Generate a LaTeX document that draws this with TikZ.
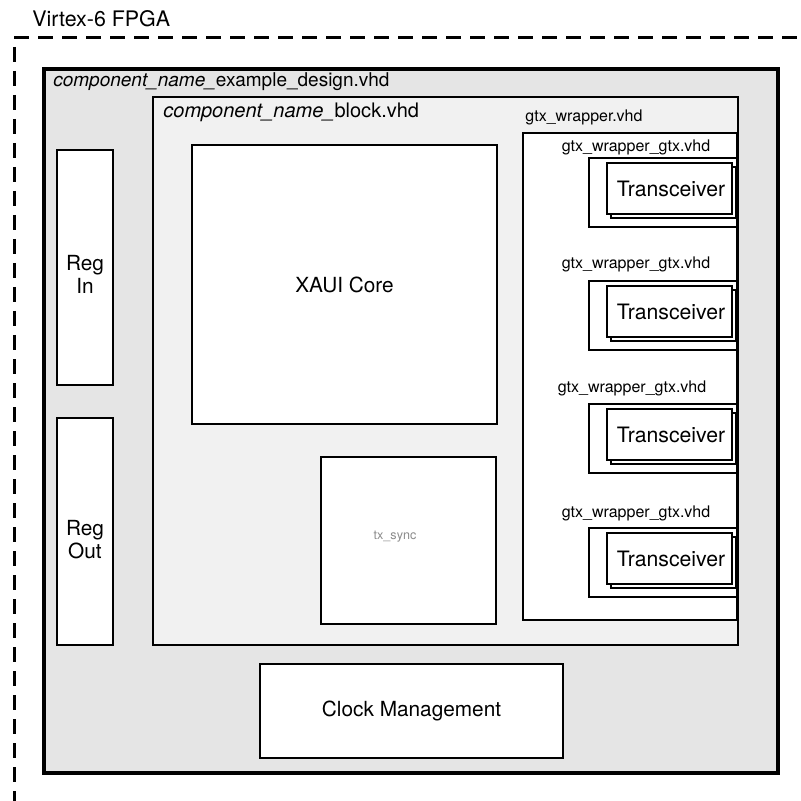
\documentclass[tikz,border=0pt]{standalone}
\usepackage{fontspec}
\setmainfont{TeX Gyre Heros}
\usepackage{tikz}
\usetikzlibrary{positioning}
\definecolor{shellgray}{RGB}{229,229,229}
\definecolor{blockgray}{RGB}{241,241,241}
\definecolor{syncgray}{RGB}{140,140,140}

\tikzset{
  shell/.style={draw, line width=1.7pt, fill=shellgray},
  blockbox/.style={draw, line width=1.4pt, fill=blockgray},
  unit/.style={draw, line width=1.3pt, fill=white},
  gtxbox/.style={draw, line width=1.2pt, fill=white},
  xcvr/.style={draw, line width=0.6pt, fill=white},
  title/.style={anchor=base west, inner sep=0pt, font=\fontsize{10}{12}\selectfont},
  label/.style={align=center, font=\fontsize{10.4}{11.5}\selectfont},
  gtxlabel/.style={anchor=base, inner sep=0pt, font=\fontsize{8}{10}\selectfont},
}

\begin{document}
\begin{tikzpicture}[x=0.5pt, y=-0.5pt]
  \useasboundingbox (0,0) rectangle (800,801);

  % FPGA boundary
  \draw[line width=1.5pt, dash pattern=on 7.5pt off 4.5pt] (14,38) -- (800,38);
  \draw[line width=1.5pt, dash pattern=on 7.5pt off 4.5pt] (14,47) -- (14,801);
  \node[anchor=base west, inner sep=0pt, font=\fontsize{10.7}{12}\selectfont] (fpga) at (32,27) {Virtex-6 FPGA};

  % example design
  \draw[shell] (44,69) rectangle (778,773);
  \node[title, font=\fontsize{9.5}{12}\selectfont] (exdesign) at (53,87) {\textit{component\_name\_}example\_design.vhd};

  \draw[unit] (57,150) rectangle (113,385);
  \node[label] (regin) at (85,274) {Reg\\In};
  \draw[unit] (57,418) rectangle (113,645);
  \node[label] (regout) at (85,540) {Reg\\Out};

  \draw[unit] (260,664) rectangle (563,758);
  \node[label] (clk) at (411.5,711) {Clock Management};

  % block level
  \draw[blockbox] (153,97) rectangle (738,645);
  \node[title] (block) at (163,118) {\textit{component\_name\_}block.vhd};

  \draw[unit] (192,145) rectangle (497,424);
  \node[label] (xaui) at (344.5,285) {XAUI Core};
  \draw[unit] (321,457) rectangle (496,624);
  \node[text=syncgray, font=\fontsize{6.3}{8}\selectfont] (txsync) at (395,537) {tx\_sync};

  % transceiver wrappers
  \node[gtxlabel, anchor=base west] (gtxwrap) at (525,122) {gtx\_wrapper.vhd};
  \draw[gtxbox] (523,133) rectangle (737,620);
  \foreach \t/\b/\lx [count=\i] in {158/152/636, 281/269/636, 404/392/632, 528/517/636} {
    \node[gtxlabel] (gtxlbl\i) at (\lx,\b) {gtx\_wrapper\_gtx.vhd};
    \draw[gtxbox] (589,\t) rectangle (737,\t+69);
    \draw[xcvr] (611,\t+9) rectangle (736,\t+60);
    \draw[xcvr] (607,\t+5) rectangle (732,\t+56);
    \node[font=\fontsize{10.6}{12}\selectfont] (xcvr\i) at (671,\t+30.5) {Transceiver};
  }
\end{tikzpicture}
\end{document}
